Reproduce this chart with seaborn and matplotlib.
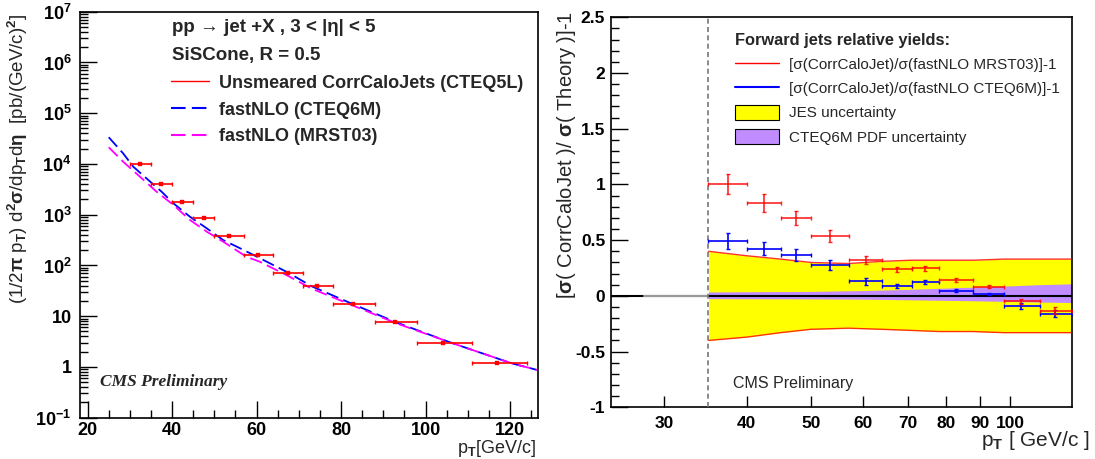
import numpy as np
import matplotlib
matplotlib.use("Agg")
import matplotlib.pyplot as plt
import matplotlib.ticker as mticker
from matplotlib.patches import Patch
from matplotlib.lines import Line2D
import seaborn as sns
import pandas as pd

# ---------------------------------------------------
# Data
# ---------------------------------------------------
# left panel: measured spectrum (bins in GeV/c)
pt_lo = [30, 35, 40, 45, 50, 57, 64, 71, 78, 88, 98, 111]
pt_hi = [35, 40, 45, 50, 57, 64, 71, 78, 88, 98, 111, 124]
pt_mean = [32.4, 37.4, 42.4, 47.5, 53.5, 60.4, 67.4, 74.4, 82.8, 92.8, 104.2, 117.0]
xsec = [1.0e4, 4.04e3, 1.78e3, 849, 380, 158, 72.6, 38.8, 17.1, 7.6, 2.95, 1.18]

# fastNLO curves
cteq_pt = [25, 28.4, 30.8, 34.8, 37.5, 40.3, 44.2, 48.2, 52.1, 56.1, 60, 67.5, 73, 83, 93, 106.3, 120.4, 126.7]
cteq6m = [3.36e4, 1.62e4, 8.85e3, 4.49e3, 2.85e3, 1.68e3, 916, 540, 316, 218, 150, 72, 39, 17, 7.6, 2.95, 1.18, 0.86]
mrst_pt = [25, 28.4, 32.4, 36.3, 40.3, 44.2, 48.2, 52.1, 57.6, 60.7, 67.5, 73, 83, 93, 106.3, 120.4, 126.7]
mrst03 = [2.13e4, 1.11e4, 5.6e3, 2.85e3, 1.56e3, 789, 464, 294, 148, 119, 62, 35, 16, 7.3, 2.95, 1.18, 0.86]

# right panel: relative yields
rel_lo = [35, 40, 45, 50, 57, 64, 71, 78, 88, 98, 111]
rel_hi = [40, 45, 50, 57, 64, 71, 78, 88, 98, 111, 124]
rel_pt = [37.5, 42.4, 47.5, 53.5, 60.5, 67.5, 74.5, 83, 93, 104, 117]
ratio_mrst = [1.0, 0.835, 0.697, 0.534, 0.321, 0.237, 0.246, 0.141, 0.084, -0.05, -0.132]
err_mrst = [0.09, 0.08, 0.065, 0.053, 0.033, 0.02, 0.02, 0.015, 0.015, 0.025, 0.03]
ratio_cteq = [0.492, 0.423, 0.366, 0.276, 0.132, 0.09, 0.123, 0.048, 0.018, -0.09, -0.159]
err_cteq = [0.068, 0.06, 0.055, 0.045, 0.03, 0.02, 0.015, 0.012, 0.012, 0.025, 0.03]

# uncertainty bands
jes_pt = [35, 40, 45, 50, 57, 64, 71, 78, 88, 98, 111, 124]
jes_up = [0.40, 0.36, 0.33, 0.30, 0.29, 0.31, 0.32, 0.32, 0.32, 0.33, 0.33, 0.33]
jes_dn = [-0.40, -0.37, -0.33, -0.30, -0.29, -0.30, -0.31, -0.32, -0.32, -0.33, -0.33, -0.33]
pdf_pt = [35, 50, 60, 70, 80, 90, 100, 110, 124]
pdf_up = [0.035, 0.04, 0.048, 0.058, 0.07, 0.08, 0.09, 0.10, 0.108]
pdf_dn = [-0.025, -0.027, -0.03, -0.035, -0.04, -0.045, -0.05, -0.055, -0.06]

# ---------------------------------------------------
# Style
# ---------------------------------------------------
sns.set_style("ticks")
plt.rcParams["font.family"] = ["Liberation Sans", "DejaVu Sans"]
plt.rcParams["font.weight"] = "bold"
plt.rcParams["mathtext.fontset"] = "custom"
plt.rcParams["mathtext.rm"] = "Liberation Sans"
plt.rcParams["mathtext.bf"] = "Liberation Sans:bold"
plt.rcParams["mathtext.it"] = "Liberation Sans:italic"
plt.rcParams["mathtext.default"] = "bf"

fig = plt.figure(figsize=(10.95, 4.59), dpi=100)
W, H = 1095, 459
ax1 = fig.add_axes([80 / W, 1 - 417.7 / H, 458.3 / W, 406 / H])
ax2 = fig.add_axes([610.7 / W, 1 - 407.3 / H, 461 / W, 390 / H])

# ---------------------------------------------------
# Left panel: spectrum
# ---------------------------------------------------
spec = pd.DataFrame({"pt": pt_mean, "xs": xsec,
                     "lo": pt_lo, "hi": pt_hi})
cteq_df = pd.DataFrame({"pt": cteq_pt, "xs": cteq6m})
mrst_df = pd.DataFrame({"pt": mrst_pt, "xs": mrst03})

ax1.set_yscale("log")
sns.lineplot(data=cteq_df, x="pt", y="xs", ax=ax1, color="blue", lw=1.3,
             linestyle=(0, (7, 3)), sort=False, estimator=None)
sns.lineplot(data=mrst_df, x="pt", y="xs", ax=ax1, color="magenta", lw=1.3,
             linestyle=(0, (7, 3)), sort=False, estimator=None)
ax1.errorbar(spec["pt"], spec["xs"],
             xerr=[spec["pt"] - spec["lo"], spec["hi"] - spec["pt"]],
             fmt="none", ecolor="red", elinewidth=1.2, capsize=1.5)
sns.scatterplot(data=spec, x="pt", y="xs", ax=ax1, color="red", marker="s",
                s=10, edgecolor="red", zorder=5)

ax1.set_xlim(18.2, 126.7)
ax1.set_ylim(0.1, 1e7)
ax1.set_xticks([20, 40, 60, 80, 100, 120])
ax1.xaxis.set_minor_locator(mticker.MultipleLocator(5))
ax1.yaxis.set_major_locator(mticker.LogLocator(base=10, numticks=20))
ax1.yaxis.set_minor_locator(mticker.LogLocator(base=10, subs=np.arange(2, 10), numticks=20))


def log_label(v, pos):
    e = int(round(np.log10(v)))
    if e == 0:
        return "1"
    if e == 1:
        return "10"
    return r"$10^{%d}$" % e


ax1.yaxis.set_major_formatter(mticker.FuncFormatter(log_label))
ax1.yaxis.set_minor_formatter(mticker.NullFormatter())

ax1.set_xlabel(r"p$_T$[GeV/c]", fontsize=13, loc="right")
ax1.xaxis.set_label_coords(0.995, -0.05)
ax1.set_ylabel(r"(1/2$\pi$ p$_T$) d$^2\sigma$/dp$_T$d$\eta$  [pb/(GeV/c)$^2$]",
               fontsize=13.5, loc="top")
ax1.yaxis.set_label_coords(-0.11, 0.995)

ax1.text(0.2, 0.96, "pp → jet +X , 3 < |η| < 5",
         transform=ax1.transAxes, fontsize=13.5, va="center")
ax1.text(0.2, 0.893, "SiSCone, R = 0.5", transform=ax1.transAxes,
         fontsize=13.5, va="center")
ax1.text(0.044, 0.088, "CMS Preliminary", transform=ax1.transAxes,
         fontsize=12.5, family="Liberation Serif", style="italic",
         weight="bold", va="center")

h_left = [Line2D([], [], color="red", lw=1),
          Line2D([], [], color="blue", lw=1.5, linestyle=(0, (7, 3))),
          Line2D([], [], color="magenta", lw=1.5, linestyle=(0, (7, 3)))]
ax1.legend(h_left, ["Unsmeared CorrCaloJets (CTEQ5L)", "fastNLO (CTEQ6M)",
                    "fastNLO (MRST03)"],
           loc="upper left", bbox_to_anchor=(0.198, 0.845), frameon=False,
           prop={"weight": "bold", "size": 13}, handlelength=2.1,
           labelspacing=0.55, handletextpad=0.6, borderaxespad=0,
           borderpad=0)

# ---------------------------------------------------
# Right panel: relative yields
# ---------------------------------------------------
jes_df = pd.DataFrame({"pt": jes_pt, "up": jes_up, "dn": jes_dn})
pdf_df = pd.DataFrame({"pt": pdf_pt, "up": pdf_up, "dn": pdf_dn})
rel = pd.DataFrame({"pt": rel_pt, "lo": rel_lo, "hi": rel_hi,
                    "mrst": ratio_mrst, "emrst": err_mrst,
                    "cteq": ratio_cteq, "ecteq": err_cteq})

ax2.set_xscale("log")
ax2.fill_between(jes_df["pt"], jes_df["dn"], jes_df["up"], color="yellow",
                 lw=0, zorder=1)
ax2.fill_between(pdf_df["pt"], pdf_df["dn"], pdf_df["up"], color="#c08cff",
                 lw=0, zorder=2)
sns.lineplot(data=jes_df, x="pt", y="up", ax=ax2, color="red", lw=1,
             alpha=0.8, sort=False, estimator=None, zorder=3)
sns.lineplot(data=jes_df, x="pt", y="dn", ax=ax2, color="red", lw=1,
             alpha=0.8, sort=False, estimator=None, zorder=3)
ax2.axhline(0, color="black", lw=1.5, zorder=4)
ax2.plot([28, 35], [0, 0], color="#999999", lw=1.5, zorder=4)
ax2.axvline(35, color="#777777", lw=1.2, linestyle=(0, (3, 2)), zorder=4)

xerr = [rel["pt"] - rel["lo"], rel["hi"] - rel["pt"]]
ax2.errorbar(rel["pt"], rel["cteq"], xerr=xerr, yerr=rel["ecteq"], fmt="none",
             ecolor="blue", elinewidth=1.2, capsize=1.5, zorder=5)
ax2.errorbar(rel["pt"], rel["mrst"], xerr=xerr, yerr=rel["emrst"], fmt="none",
             ecolor="red", elinewidth=1.2, capsize=1.5, alpha=0.85, zorder=6)

ax2.set_xlim(24.9, 124)
ax2.set_ylim(-1, 2.5)
xt = [30, 40, 50, 60, 70, 80, 90, 100]
ax2.set_xticks(xt)
ax2.set_xticklabels([str(v) for v in xt])
ax2.xaxis.set_minor_locator(mticker.NullLocator())
yt = [-1, -0.5, 0, 0.5, 1, 1.5, 2, 2.5]
ax2.set_yticks(yt)
ax2.set_yticklabels(["%g" % v for v in yt])
ax2.yaxis.set_minor_locator(mticker.MultipleLocator(0.1))

ax2.set_xlabel(r"p$_T$ [ GeV/c ]", fontsize=15, loc="right")
ax2.xaxis.set_label_coords(1.04, -0.055)
ax2.set_ylabel(r"[$\sigma$( CorrCaloJet )/ $\sigma$( Theory )]-1", fontsize=14.5,
               loc="top")
ax2.yaxis.set_label_coords(-0.072, 1.015)

ax2.text(0.265, 0.062, "CMS Preliminary", transform=ax2.transAxes,
         fontsize=11.5, weight="normal", va="center")

h_right = [Line2D([], [], color="red", lw=1),
           Line2D([], [], color="blue", lw=1.5),
           Patch(facecolor="yellow", edgecolor="black", lw=0.8),
           Patch(facecolor="#c08cff", edgecolor="black", lw=0.8)]
leg = ax2.legend(h_right, ["[σ(CorrCaloJet)/σ(fastNLO MRST03)]-1",
                           "[σ(CorrCaloJet)/σ(fastNLO CTEQ6M)]-1",
                           "JES uncertainty", "CTEQ6M PDF uncertainty"],
                 title="Forward jets relative yields:", alignment="left",
                 title_fontproperties={"weight": "bold", "size": 11.8},
                 loc="upper left", bbox_to_anchor=(0.27, 0.96),
                 frameon=False, prop={"weight": "normal", "size": 11},
                 handlelength=2.9, handleheight=1.15, labelspacing=0.55,
                 handletextpad=0.6, borderaxespad=0, borderpad=0)

# ---------------------------------------------------
# Axes frame and ticks (ROOT look)
# ---------------------------------------------------
for ax in (ax1, ax2):
    for s in ax.spines.values():
        s.set_visible(True)
        s.set_color("black")
        s.set_linewidth(1.2)
    ax.tick_params(which="both", direction="in", top=False, right=False,
                   width=1, colors="black")
    ax.tick_params(which="major", length=12, pad=6)
    ax.tick_params(which="minor", length=6)
ax1.tick_params(which="major", labelsize=13)
ax1.tick_params(axis="x", which="major", pad=3)
ax2.tick_params(which="major", labelsize=12.5)
ax2.tick_params(axis="y", which="major", pad=4)
ax2.tick_params(axis="x", which="major", length=8)
for ax in (ax1, ax2):
    for lbl in ax.get_xticklabels() + ax.get_yticklabels():
        lbl.set_fontweight("bold")

fig.savefig("out.png", dpi=100)
